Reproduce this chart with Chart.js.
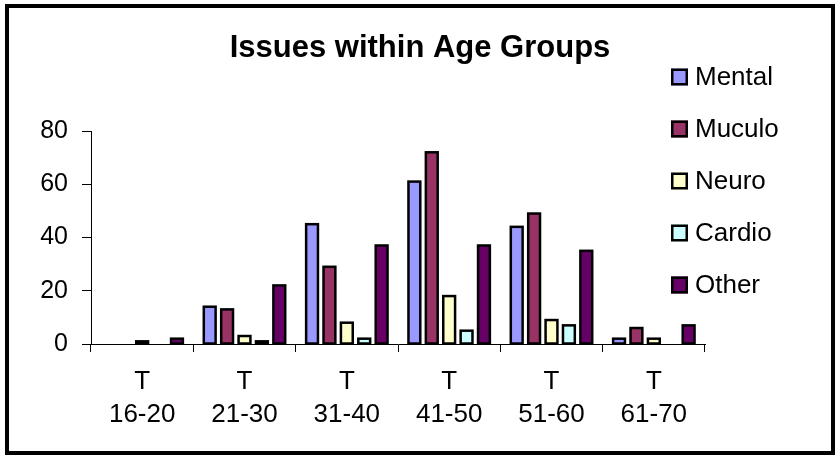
<!DOCTYPE html>
<html>
<head>
<meta charset="utf-8">
<script src="https://cdn.jsdelivr.net/npm/chart.js@4/dist/chart.umd.min.js"></script>
<style>
  html, body { margin: 0; padding: 0; background: #fff; }
  #wrap { width: 840px; height: 459px; position: relative; }
</style>
</head>
<body>
<div id="wrap"><canvas id="c" width="840" height="459"></canvas></div>
<script>
// Age groups along the x axis (two-line labels)
const categories = [
  ['T', '16-20'], ['T', '21-30'], ['T', '31-40'],
  ['T', '41-50'], ['T', '51-60'], ['T', '61-70']
];

// Issue counts per age group
const mental = [0, 14, 45, 61, 44, 2];
const muculo = [0, 13, 29, 72, 49, 6];
const neuro  = [1, 3, 8, 18, 9, 2];
const cardio = [0, 1, 2, 5, 7, 0];
const other  = [2, 22, 37, 37, 35, 7];

const seriesNames = ['Mental', 'Muculo', 'Neuro', 'Cardio', 'Other'];
const seriesColors = ['#9999FF', '#993366', '#FFFFCC', '#CCFFFF', '#660066'];

const chartTitle = 'Issues within Age Groups';

// Value axis
const yMin = 0, yMax = 80, yStep = 20;

const FONT = '"Liberation Sans", Arial, sans-serif';
const OUTLINE = 2.5;

const seriesValues = [mental, muculo, neuro, cardio, other];
const datasets = seriesNames.map((name, i) => ({
  label: name,
  data: seriesValues[i],
  backgroundColor: seriesColors[i],
  borderWidth: 0,
  categoryPercentage: 0.85,
  barPercentage: 0.68
}));

// Black outline centred on each bar edge, so short bars still read as solid marks
const barOutlines = {
  id: 'barOutlines',
  afterDatasetsDraw(chart) {
    const ctx = chart.ctx;
    ctx.save();
    ctx.strokeStyle = '#000';
    ctx.lineWidth = OUTLINE;
    chart.data.datasets.forEach((ds, i) => {
      const meta = chart.getDatasetMeta(i);
      meta.data.forEach((bar, j) => {
        if (!ds.data[j]) return;
        const p = bar.getProps(['x', 'y', 'base', 'width'], true);
        ctx.strokeRect(p.x - p.width / 2, p.y, p.width, p.base - p.y);
      });
    });
    ctx.restore();
  }
};

// Outer frame, centred title and the stacked key at the upper right
const frameTitleKey = {
  id: 'frameTitleKey',
  afterDraw(chart) {
    const ctx = chart.ctx;
    ctx.save();
    ctx.strokeStyle = '#000';
    ctx.lineWidth = 4;
    ctx.strokeRect(7, 6, 826, 447);

    ctx.fillStyle = '#000';
    ctx.font = 'bold 31px ' + FONT;
    ctx.textAlign = 'center';
    ctx.textBaseline = 'middle';
    ctx.fillText(chartTitle, 420, 48);

    const boxX = 671, box = 17, textX = 695;
    const firstY = 77, rowGap = 52;
    ctx.font = '26px ' + FONT;
    ctx.textBaseline = 'middle';
    ctx.textAlign = 'left';
    chart.data.datasets.forEach((ds, i) => {
      const cy = firstY + i * rowGap;
      ctx.fillStyle = ds.backgroundColor;
      ctx.fillRect(boxX, cy - box / 2, box, box);
      ctx.lineWidth = 2.5;
      ctx.strokeStyle = '#000';
      ctx.strokeRect(boxX + 1.25, cy - box / 2 + 1.25, box - 2.5, box - 2.5);
      ctx.fillStyle = '#000';
      ctx.fillText(ds.label, textX, cy + 1);
    });
    ctx.restore();
  }
};

new Chart(document.getElementById('c'), {
  type: 'bar',
  data: { labels: categories, datasets },
  options: {
    responsive: false,
    animation: false,
    devicePixelRatio: 1,
    layout: { padding: { top: 131, left: 0, right: 135, bottom: 0 } },
    plugins: {
      legend: { display: false },
      tooltip: { enabled: false },
      title: { display: false }
    },
    scales: {
      x: {
        grid: {
          display: true,
          offset: true,
          drawOnChartArea: false,
          drawTicks: true,
          tickLength: 8,
          color: '#000',
          lineWidth: 1
        },
        border: { display: true, color: '#000', width: 1 },
        ticks: {
          color: '#000',
          font: { family: FONT, size: 26, lineHeight: 1.27 },
          padding: 13,
          maxRotation: 0,
          autoSkip: false
        },
        afterFit(scale) { scale.height = 115; }
      },
      y: {
        min: yMin,
        max: yMax,
        grid: {
          display: true,
          drawOnChartArea: false,
          drawTicks: true,
          tickLength: 9,
          color: '#000',
          lineWidth: 1
        },
        border: { display: true, color: '#000', width: 1 },
        ticks: {
          stepSize: yStep,
          color: '#000',
          font: { family: FONT, size: 25 },
          padding: 14
        },
        afterFit(scale) { scale.width = 91; }
      }
    }
  },
  plugins: [barOutlines, frameTitleKey]
});
</script>
</body>
</html>
